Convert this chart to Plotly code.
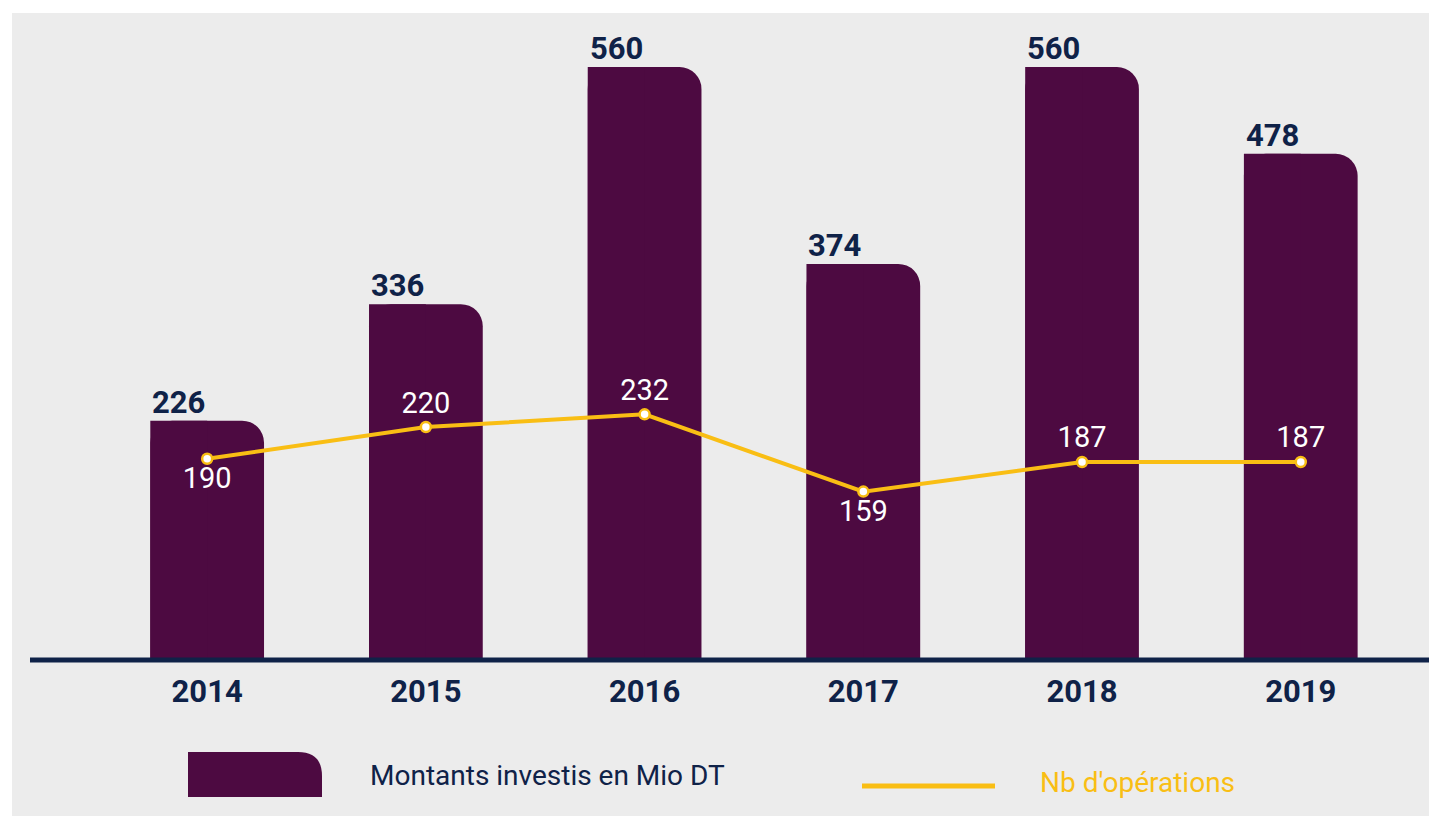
import plotly.graph_objects as go

# data
years = ['2014', '2015', '2016', '2017', '2018', '2019']
montants = [226, 336, 560, 374, 560, 478]
nb_operations = [190, 220, 232, 159, 187, 187]
line_label_pos = ['bottom center', 'top center', 'top center',
                  'bottom center', 'top center', 'top center']

PURPLE = '#4D0A41'
NAVY = '#0F2248'
YELLOW = '#F9BE14'
GRAY = '#ECECEC'
FONT = 'Roboto'

# the page body has an 8px margin, so the figure is drawn from (8, 8)
OFF = 8
W, H = 1437 - OFF, 816 - OFF
# plot area, given in page pixels
X0, X1, Y0, Y1 = 30, 1432, 40, 660
L, R, T, B = X0 - OFF, W - (X1 - OFF), Y0 - OFF, H - (Y1 - OFF)
PW, PH = W - L - R, H - T - B


def px(x):
    return (x - X0) / PW


def py(y):
    return (Y1 - y) / PH


BAR_W = 0.52
X_RANGE = [-0.81, 5.6]
CAT_PX = PW / (X_RANGE[1] - X_RANGE[0])

fig = go.Figure()

# full bars with rounded top corners
fig.add_trace(go.Bar(
    x=years, y=montants,
    width=BAR_W, offset=-BAR_W / 2,
    marker=dict(color=PURPLE, cornerradius=22, line=dict(width=0)),
    hoverinfo='x+y', showlegend=False,
))
# left half, square, so only the top-right corner stays rounded
fig.add_trace(go.Bar(
    x=years, y=montants,
    width=BAR_W / 2, offset=-BAR_W / 2,
    marker=dict(color=PURPLE, line=dict(width=0)),
    hoverinfo='skip', showlegend=False,
))

fig.add_trace(go.Scatter(
    x=years, y=nb_operations,
    mode='lines+markers+text',
    line=dict(color=YELLOW, width=4),
    marker=dict(color='white', size=10, line=dict(color=YELLOW, width=2.5)),
    text=[str(v) for v in nb_operations],
    textposition=line_label_pos,
    textfont=dict(family=FONT, size=29, color='white'),
    showlegend=False,
))

# value labels above bars, aligned with bar left edge
for i, v in enumerate(montants):
    fig.add_annotation(
        x=i, y=v, text=str(v), showarrow=False,
        xanchor='left', yanchor='bottom', xshift=-BAR_W / 2 * CAT_PX,
        yshift=-2,
        font=dict(family=FONT, size=31, color=NAVY, weight='bold'),
    )

shapes = [
    # gray panel
    dict(type='rect', xref='paper', yref='paper', layer='below',
         x0=px(12), x1=px(1450), y0=py(830), y1=py(13),
         fillcolor=GRAY, line=dict(width=0)),
    # baseline
    dict(type='line', xref='paper', yref='paper', layer='above',
         x0=0, x1=1, y0=py(660), y1=py(660),
         line=dict(color=NAVY, width=5)),
    # legend line
    dict(type='line', xref='paper', yref='paper',
         x0=px(862), x1=px(995), y0=py(786), y1=py(786),
         line=dict(color=YELLOW, width=5)),
]

# legend swatch with rounded top-right corner
sx0, sx1, sy0, sy1, r = 188, 322, 797, 752, 24
path = (f'M {px(sx0)},{py(sy0)} L {px(sx0)},{py(sy1)} '
        f'L {px(sx1 - r)},{py(sy1)} Q {px(sx1)},{py(sy1)} {px(sx1)},{py(sy1 + r)} '
        f'L {px(sx1)},{py(sy0)} Z')
shapes.append(dict(type='path', xref='paper', yref='paper', path=path,
                   fillcolor=PURPLE, line=dict(width=0)))

fig.add_annotation(x=px(368), y=py(775), xref='paper', yref='paper',
                   text='Montants investis en Mio DT', showarrow=False,
                   xanchor='left', yanchor='middle',
                   font=dict(family=FONT, size=28, color=NAVY))
fig.add_annotation(x=px(1038), y=py(782), xref='paper', yref='paper',
                   text="Nb d'opérations", showarrow=False,
                   xanchor='left', yanchor='middle',
                   font=dict(family=FONT, size=28, color=YELLOW))

fig.update_layout(
    width=W, height=H,
    margin=dict(l=L, r=R, t=T, b=B),
    paper_bgcolor='white',
    plot_bgcolor='rgba(0,0,0,0)',
    barmode='overlay',
    shapes=shapes,
    xaxis=dict(
        type='category', range=X_RANGE,
        showgrid=False, zeroline=False, showline=False,
        ticks='outside', ticklen=4, tickcolor='rgba(0,0,0,0)',
        tickfont=dict(family=FONT, size=31, color=NAVY, weight='bold'),
        fixedrange=True,
    ),
    yaxis=dict(
        range=[0, PH / 1.059],
        showgrid=False, zeroline=False, showline=False,
        showticklabels=False, fixedrange=True,
    ),
)

fig.write_html('out.html')
